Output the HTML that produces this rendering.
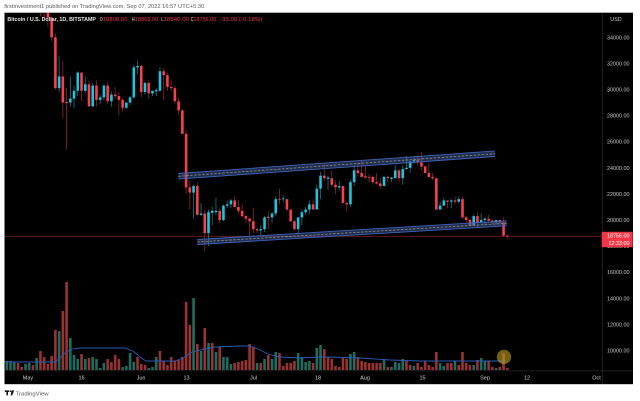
<!DOCTYPE html>
<html><head><meta charset="utf-8">
<style>
html,body{margin:0;padding:0;background:#fff;width:640px;height:401px;overflow:hidden}
svg{display:block;font-family:"Liberation Sans",sans-serif}
</style></head>
<body>
<svg id="s" width="640" height="401" viewBox="0 0 640 401" xmlns="http://www.w3.org/2000/svg">
<defs><clipPath id="pc"><rect x="4.5" y="12.7" width="597.5" height="357.5"/></clipPath></defs>
<rect x="0" y="0" width="640" height="401" fill="#fff"/>
<text x="4.3" y="7.8" font-size="5.6" fill="#5a5a5a" textLength="200" lengthAdjust="spacingAndGlyphs">firstinvestment1 published on TradingView.com, Sep 07, 2022 16:57 UTC+5:30</text>
<rect x="4.5" y="12.7" width="628.5" height="371.5" fill="#000"/>
<line x1="602.5" y1="12.7" x2="602.5" y2="384" stroke="#1e1e1e" stroke-width="1"/>
<line x1="4.5" y1="370.8" x2="633" y2="370.8" stroke="#1e1e1e" stroke-width="1"/>
<g clip-path="url(#pc)">
  <g id="vol"></g>
  <polyline fill="none" stroke="#2b59b8" stroke-width="0.9" points="4,362 55,362 60,358 66,352 72,349 80,348 125,348 133,351 140,357 146,361 175,361 183,358 192,352 205,349 215,347 240,346 250,346 258,349 268,354 280,357 300,358 318,357 330,357 360,358 390,360 420,361 506,361"/>
  <circle cx="504" cy="357" r="7.2" fill="rgba(190,160,35,0.6)"/>
  <line x1="4.5" y1="236.3" x2="602" y2="236.3" stroke="#6d1d24" stroke-width="0.8"/>
  <g id="cdl"></g>
  <!-- upper channel -->
  <polygon points="178.3,173.5 495,150.9 495,156.5 178.3,179.1" fill="rgba(70,100,170,0.45)"/>
  <line x1="178.3" y1="173.5" x2="495" y2="150.9" stroke="#3d63b8" stroke-width="0.9"/>
  <line x1="178.3" y1="179.1" x2="495" y2="156.5" stroke="#3d63b8" stroke-width="0.9"/>
  <line x1="178.3" y1="176.3" x2="495" y2="153.7" stroke="#8d8d8d" stroke-width="0.8" stroke-dasharray="2.5 1.5"/>
  <!-- lower channel -->
  <polygon points="197.3,239.5 506.7,220.8 506.7,225.8 197.3,244.5" fill="rgba(70,100,170,0.45)"/>
  <line x1="197.3" y1="239.5" x2="506.7" y2="220.8" stroke="#3d63b8" stroke-width="0.9"/>
  <line x1="197.3" y1="244.5" x2="506.7" y2="225.8" stroke="#3d63b8" stroke-width="0.9"/>
  <line x1="197.3" y1="242" x2="506.7" y2="223.3" stroke="#8d8d8d" stroke-width="0.8" stroke-dasharray="2.5 1.5"/>
</g>
<!-- price axis -->
<g font-size="5.4" fill="#c8c8c8" text-anchor="end">
<text x="616" y="21" text-anchor="middle">USD</text>
<text x="629.5" y="39.3">34000.00</text>
<text x="629.5" y="65.4">32000.00</text>
<text x="629.5" y="91.5">30000.00</text>
<text x="629.5" y="117.6">28000.00</text>
<text x="629.5" y="143.7">26000.00</text>
<text x="629.5" y="169.8">24000.00</text>
<text x="629.5" y="195.9">22000.00</text>
<text x="629.5" y="222">20000.00</text>
<text x="629.5" y="248.1">18000.00</text>
<text x="629.5" y="274.2">16000.00</text>
<text x="629.5" y="300.3">14000.00</text>
<text x="629.5" y="326.4">12000.00</text>
<text x="629.5" y="352.5">10000.00</text>
</g>
<rect x="601.7" y="231.8" width="31" height="15.4" fill="#f23645"/>
<g font-size="5.4" fill="#fff" text-anchor="end">
<text x="629.5" y="237.4">18756.00</text>
<text x="629.5" y="244.8">12:33:00</text>
</g>
<!-- time axis -->
<g font-size="5.5" fill="#d0d0d0" text-anchor="middle">
<text x="28" y="379.5">May</text>
<text x="81.5" y="379.5">16</text>
<text x="141" y="379.5">Jun</text>
<text x="186.5" y="379.5">13</text>
<text x="253.5" y="379.5">Jul</text>
<text x="318" y="379.5">18</text>
<text x="365" y="379.5">Aug</text>
<text x="422.5" y="379.5">15</text>
<text x="485" y="379.5">Sep</text>
<text x="527" y="379.5">12</text>
<text x="596.5" y="379.5">Oct</text>
</g>
<!-- header -->
<g font-size="5.6">
<text x="7.4" y="21" fill="#e6e6e6" font-weight="bold" textLength="88.6" lengthAdjust="spacingAndGlyphs">Bitcoin / U.S. Dollar, 1D, BITSTAMP</text>
<text x="99.7" y="21" fill="#e6e6e6" textLength="3" lengthAdjust="spacingAndGlyphs">O</text>
<text x="102.6" y="21" fill="#f23645" textLength="25" lengthAdjust="spacingAndGlyphs">18808.00</text>
<text x="131.6" y="21" fill="#e6e6e6" textLength="3" lengthAdjust="spacingAndGlyphs">H</text>
<text x="134.8" y="21" fill="#f23645" textLength="23.5" lengthAdjust="spacingAndGlyphs">18869.00</text>
<text x="161.3" y="21" fill="#e6e6e6" textLength="2.4" lengthAdjust="spacingAndGlyphs">L</text>
<text x="163.5" y="21" fill="#f23645" textLength="25.5" lengthAdjust="spacingAndGlyphs">18540.00</text>
<text x="190.8" y="21" fill="#e6e6e6" textLength="2.8" lengthAdjust="spacingAndGlyphs">C</text>
<text x="193.4" y="21" fill="#f23645" textLength="22.8" lengthAdjust="spacingAndGlyphs">18756.00</text>
<text x="220" y="21" fill="#f23645" textLength="42.3" lengthAdjust="spacingAndGlyphs">-33.00 (-0.18%)</text>
</g>
<!-- logo -->
<g fill="#131722">
<rect x="4.8" y="390.4" width="4.2" height="1.6"/>
<rect x="6.4" y="390.4" width="1.6" height="5"/>
<circle cx="10.4" cy="391.3" r="0.9"/>
<polygon points="11.6,390.4 14.2,390.4 12.2,395.4 10.6,395.4"/>
</g>
<text x="15.6" y="395.3" font-size="5.8" fill="#555" textLength="33" lengthAdjust="spacingAndGlyphs">TradingView</text>
</svg>
<script>
(function(){
var X=function(d){return 25.5+3.735*d;};
var Y=function(p){return 220-(p*1000-20000)*0.01305;};
var data="37.6 38.7 37.4 38.5|38.5 39.1 38.0 38.5|38.5 38.6 37.5 37.7|37.7 40.0 37.6 39.7|39.7 39.8 35.6 36.5|36.5 36.6 35.3 36.0|36.0 36.1 34.8 35.5|35.5 35.5 33.7 34.0|34.0 34.3 30.0 30.1|30.1 32.6 29.8 31.0|31.0 32.2 27.8 29.0|29.05 30.1 25.4 28.95|29.0 31.0 28.7 29.3|29.3 30.3 28.6 29.9|29.9 31.4 29.5 31.3|31.3 31.3 29.1 29.9|29.9 31.0 29.7 30.4|30.4 30.7 28.7 28.7|28.7 30.5 28.7 30.3|30.3 30.7 28.7 29.2|29.2 29.6 28.9 29.4|29.4 30.4 29.2 30.3|30.3 30.6 28.9 29.1|29.1 29.8 28.7 29.6|29.6 30.2 29.3 29.5|29.5 29.8 28.0 29.2|29.2 29.3 28.3 28.6|28.6 29.0 28.5 29.0|29.0 29.5 28.8 29.4|29.4 31.9 29.3 31.7|31.7 32.2 31.2 31.8|31.8 31.9 29.4 29.8|29.8 30.6 29.6 30.5|30.5 30.7 29.3 29.7|29.7 29.9 29.5 29.9|29.85 30.1 29.5 29.95|29.9 31.7 29.9 31.4|31.4 31.6 29.2 31.1|31.1 31.3 29.9 30.2|30.2 30.7 29.9 30.1|30.1 30.3 28.9 29.1|29.1 29.4 28.1 28.4|28.4 28.5 26.6 26.6|26.6 26.9 22.0 22.5|22.5 23.0 20.8 22.1|22.1 22.7 20.1 22.6|22.6 22.9 20.3 20.4|20.4 21.3 20.3 20.5|20.5 20.8 17.6 19.0|19.0 20.8 18.0 20.6|20.55 21.0 19.6 20.7|20.6 21.7 20.4 20.7|20.7 20.9 19.8 20.0|20.0 21.2 19.9 21.1|21.1 21.5 20.9 21.2|21.2 21.6 20.9 21.5|21.5 21.8 21.0 21.0|21.0 21.5 20.5 20.7|20.7 21.2 20.2 20.3|20.3 20.4 19.8 20.1|20.1 20.2 18.6 19.9|19.9 20.9 19.0 19.3|19.3 19.4 19.0 19.2|19.2 19.6 18.8 19.3|19.3 20.3 19.1 20.2|20.25 20.7 19.3 20.15|20.2 20.6 19.8 20.5|20.5 21.8 20.3 21.6|21.6 22.4 21.2 21.55|21.6 21.9 21.4 21.65|21.6 21.6 20.7 20.8|20.8 20.8 19.9 19.9|19.9 20.0 19.2 19.3|19.3 20.2 18.9 20.2|20.2 20.8 19.6 20.6|20.6 21.0 20.4 20.8|20.8 21.5 20.5 21.2|21.2 21.6 20.8 20.8|20.8 22.7 20.8 22.4|22.4 23.7 21.6 23.4|23.4 24.3 23.0 23.2|23.15 23.4 22.3 23.25|23.2 23.8 22.5 22.7|22.7 23.0 22.0 22.5|22.5 23.0 22.3 22.6|22.6 22.6 21.3 21.3|21.3 21.4 20.7 21.2|21.2 23.1 21.0 22.9|22.9 24.2 22.6 23.8|23.8 24.4 23.4 23.6|23.6 24.6 23.5 23.3|23.35 24.2 23.2 23.25|23.3 23.5 22.9 23.25|23.3 23.4 22.7 22.9|22.9 23.6 22.7 22.8|22.8 23.2 22.4 22.6|22.6 23.4 22.6 23.3|23.3 23.4 22.9 23.2|23.15 23.3 22.9 23.25|23.2 24.2 23.2 23.8|23.8 23.9 22.9 23.2|23.2 24.2 22.7 23.9|23.9 24.9 23.9 24.0|24.0 24.5 23.6 24.5|24.5 24.9 24.3 24.6|24.6 25.0 24.2 24.4|24.4 25.2 23.8 24.1|24.1 24.2 23.7 23.6|23.6 24.4 23.2 23.3|23.3 23.6 23.1 23.2|23.2 23.2 20.8 20.8|20.8 21.4 20.8 21.1|21.1 21.7 21.1 21.5|21.5 21.5 20.9 21.4|21.4 21.6 20.9 21.5|21.5 21.8 21.2 21.4|21.4 21.8 21.3 21.6|21.6 21.8 20.1 20.2|20.2 20.3 19.8 20.0|20.0 20.1 19.6 19.6|19.6 20.4 19.6 20.3|20.3 20.6 19.5 19.8|19.8 20.5 19.8 20.0|20.0 20.2 19.6 20.1|20.1 20.4 19.8 19.95|19.95 20.0 19.7 19.8|19.8 20.0 19.6 20.0|20.0 20.0 19.6 19.8|19.8 20.2 18.7 18.8|18.808 18.869 18.54 18.756";
var rows=data.split("|");var s="";
for(var d=0;d<rows.length;d++){
 var v=rows[d].split(" ").map(Number);var o=v[0],h=v[1],l=v[2],c=v[3];
 var up=c>=o;var x=X(d);
 var wc=up?"#157a88":"#8e2431";var bc=up?"#1fc3dc":"#f5404f";
 var yh=Y(h),yl=Y(l);
 s+='<rect x="'+(x-0.4).toFixed(2)+'" y="'+yh.toFixed(2)+'" width="0.8" height="'+Math.max(0.5,yl-yh).toFixed(2)+'" fill="'+wc+'"/>';
 var t=Y(Math.max(o,c)),b=Y(Math.min(o,c));
 s+='<rect x="'+(x-1.3).toFixed(2)+'" y="'+t.toFixed(2)+'" width="2.6" height="'+Math.max(0.8,b-t).toFixed(2)+'" fill="'+bc+'"/>';
}
document.getElementById("cdl").innerHTML=s;
var vol="r15,t9,t9,t8,r7,r3,t6,t7,r5,t12,r19,r13,r6,r14,r40,t39,r59,r88,t32,t15,t11,r16,t11,r12,t13,t11,t2,t7,r11,r8,r15,r11,t3,t4,t17,t8,r13,r6,r5,t2,t3,t13,r19,r9,r5,r13,r9,r10,r13,r68,r45,t72,r26,t19,r42,t27,r27,t18,r23,t13,t13,t6,r7,r8,r9,r10,r26,r23,t7,r7,t11,r15,t11,t18,r17,r4,r7,r7,r9,t17,t13,t8,t9,r7,t22,t25,r21,r13,r11,r4,r3,r12,r11,t16,t18,r13,r9,r8,r7,r7,r7,r7,t11,r3,t3,t8,t7,t11,r9,r5,t4,r7,r3,r9,r5,r3,r18,t7,t4,r7,r7,t9,r5,r18,r7,r5,t5,r10,t12,t9,r9,r3,t2,r3,r17,r2".split(",");
var vs="";
for(var i=0;i<vol.length;i++){
 var dd=i-6;var col=vol[i][0]=="r"?"#9a3232":"#1e6c5f";var hh=parseFloat(vol[i].slice(1));
 var xx=X(dd);
 vs+='<rect x="'+(xx-1.3).toFixed(2)+'" y="'+(370-hh).toFixed(2)+'" width="2.6" height="'+hh+'" fill="'+col+'"/>';
}
document.getElementById("vol").innerHTML=vs;
})();
</script>
</body></html>
